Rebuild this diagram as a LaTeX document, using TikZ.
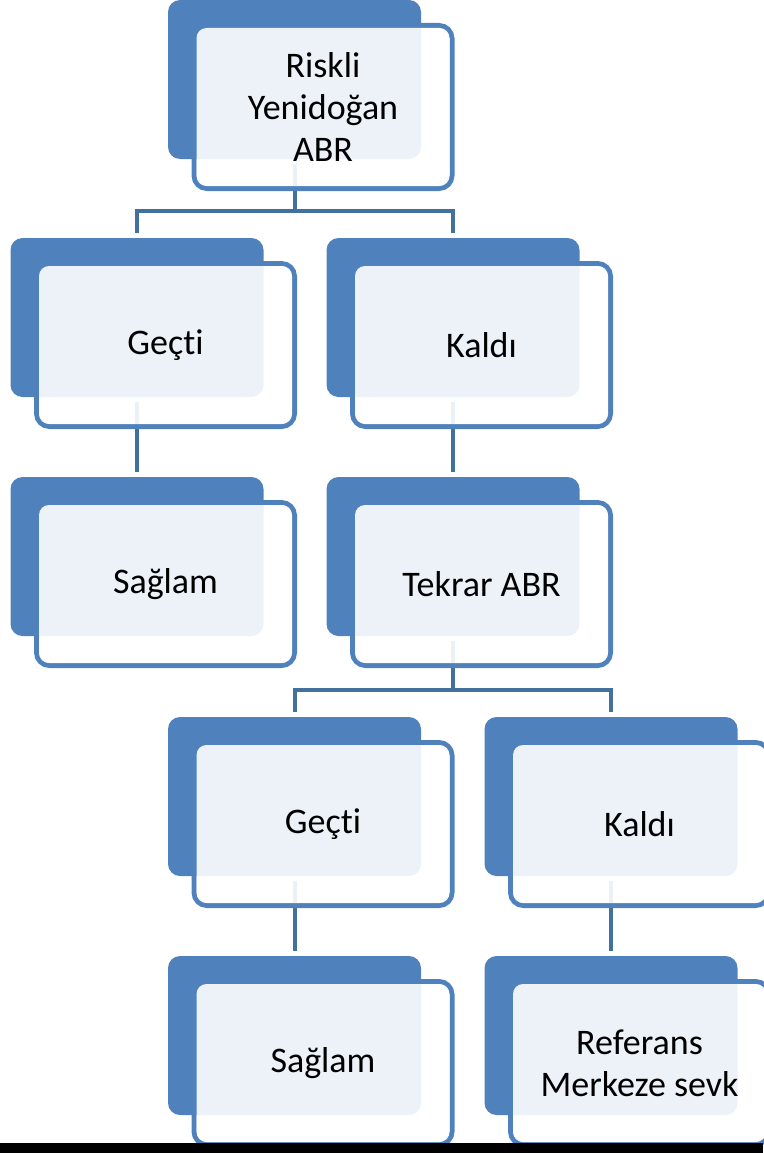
\documentclass[tikz,border=0pt]{standalone}
\usepackage{fontspec}
\setmainfont{Carlito}[Ligatures=NoCommon]
\usetikzlibrary{backgrounds}
\definecolor{boxblue}{HTML}{4F81BD}
\definecolor{lineblue}{HTML}{41719C}
\tikzstyle{back}=[rectangle,rounded corners=12pt,fill=boxblue,minimum width=253pt,minimum height=159pt,inner sep=0pt,outer sep=0pt]
\tikzstyle{frame}=[rectangle,rounded corners=13pt,draw=boxblue,line width=5pt,minimum width=258pt,minimum height=163pt,inner sep=0pt,outer sep=0pt]
\tikzstyle{face}=[rectangle,rounded corners=10pt,fill=white,fill opacity=0.9,text opacity=1,minimum width=253pt,minimum height=158pt,inner sep=0pt,align=center,font=\fontsize{36}{42}\selectfont]
\tikzstyle{conn} = [draw=lineblue,line width=4pt,shorten <=5pt,shorten >=5pt]

\begin{document}
\begin{tikzpicture}[x=1pt,y=-1pt]
          \useasboundingbox (0,0) rectangle (763,1153);
          % top
          \node[frame] (risk-fr) at (323,107) {};
          \node[back] (risk) at (294.5,79.5) {};
          \node[face] (risk-tx) at (323,107) {Riskli\\Yenidoğan\\ABR};
          % second row
          \node[frame] (gecA-fr) at (165.5,345) {};
          \node[back] (gecA) at (137,317.5) {};
          \node[face] (gecA-tx) at (165.5,345) {Geçti};
          \node[frame] (kalA-fr) at (481.5,345) {};
          \node[back] (kalA) at (453,317.5) {};
          \node[face] (kalA-tx) at (481.5,345) {Kaldı};
          % third row
          \node[frame] (saglamA-fr) at (165.5,584) {};
          \node[back] (saglamA) at (137,556.5) {};
          \node[face] (saglamA-tx) at (165.5,584) {Sağlam};
          \node[frame] (tekrar-fr) at (481.5,584) {};
          \node[back] (tekrar) at (453,556.5) {};
          \node[face] (tekrar-tx) at (481.5,584) {Tekrar ABR};
          % fourth row
          \node[frame] (gecB-fr) at (323,824) {};
          \node[back] (gecB) at (294.5,796.5) {};
          \node[face] (gecB-tx) at (323,824) {Geçti};
          \node[frame] (kalB-fr) at (639.5,824) {};
          \node[back] (kalB) at (611,796.5) {};
          \node[face] (kalB-tx) at (639.5,824) {Kaldı};
          % last row
          \node[frame] (saglamB-fr) at (323,1063) {};
          \node[back] (saglamB) at (294.5,1035.5) {};
          \node[face] (saglamB-tx) at (323,1063) {Sağlam};
          \node[frame] (sevk-fr) at (639.5,1063) {};
          \node[back] (sevk) at (611,1035.5) {};
          \node[face] (sevk-tx) at (639.5,1063) {Referans\\Merkeze sevk};
          % connectors
          \begin{scope}[on background layer]
          \draw[conn] (risk.south) -- ++(0,52) -| (gecA.north);
          \draw[conn] (risk.south) -- ++(0,52) -| (kalA.north);
          \draw[conn] (gecA.south) -- (saglamA.north);
          \draw[conn] (kalA.south) -- (tekrar.north);
          \draw[conn] (tekrar.south) -- ++(0,54) -| (gecB.north);
          \draw[conn] (tekrar.south) -- ++(0,54) -| (kalB.north);
          \draw[conn] (gecB.south) -- (saglamB.north);
          \draw[conn] (kalB.south) -- (sevk.north);
          \end{scope}
          \fill[black] (0,1143) rectangle (763,1153);
        \end{tikzpicture}
\end{document}
